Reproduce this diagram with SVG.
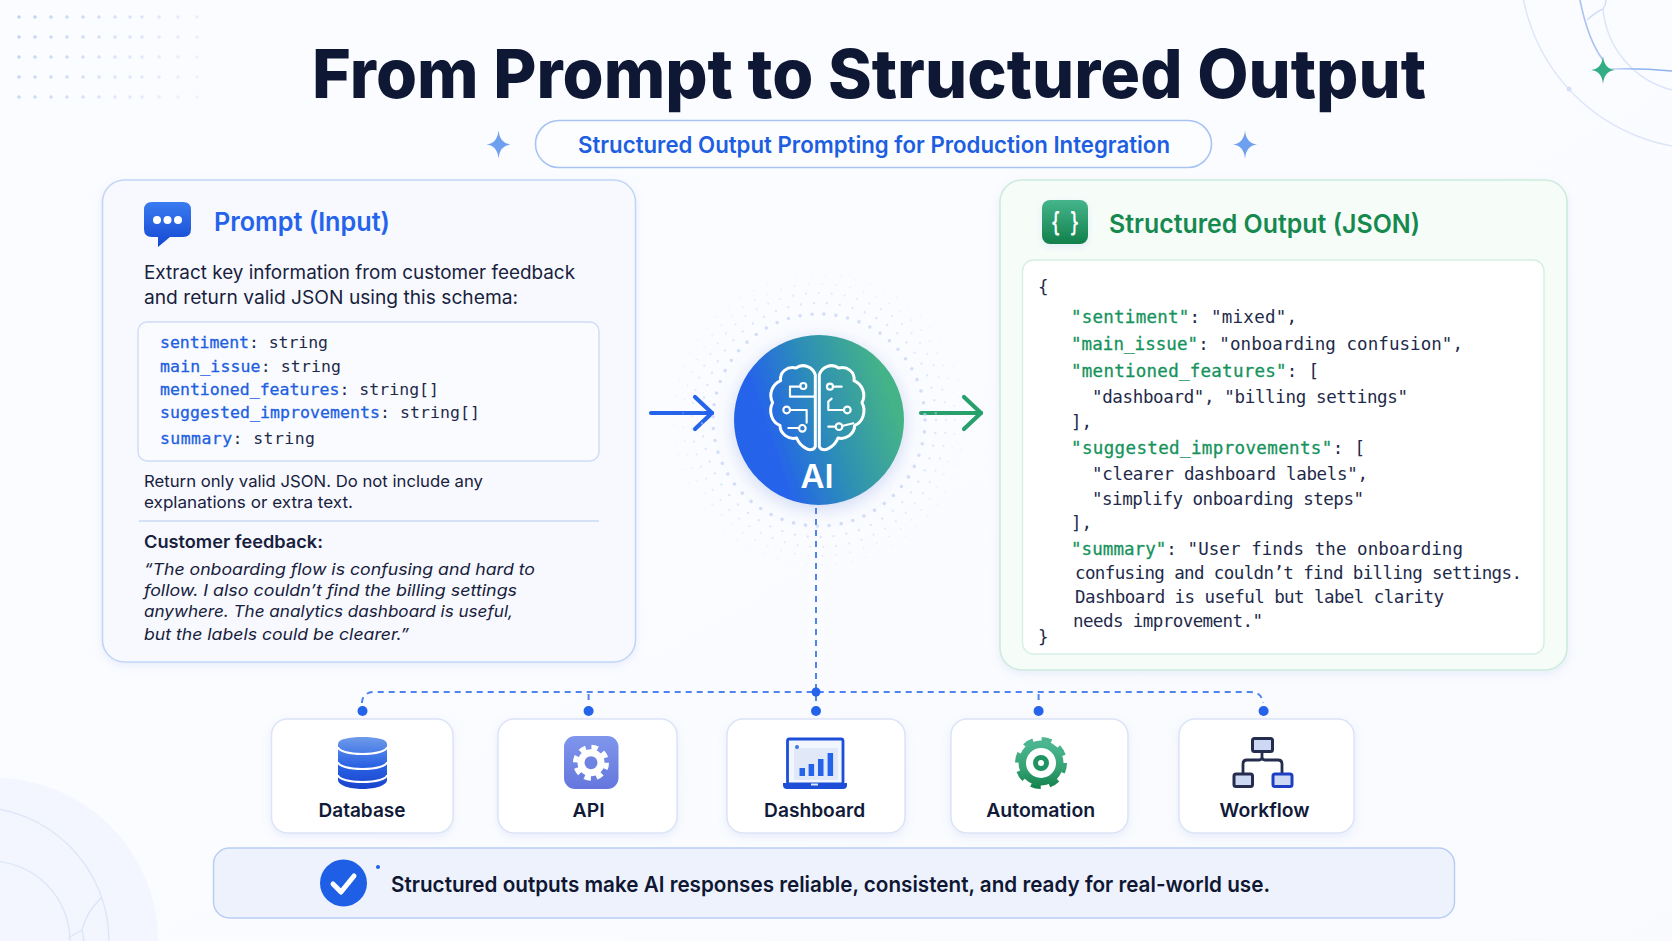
<svg xmlns="http://www.w3.org/2000/svg" xmlns:xlink="http://www.w3.org/1999/xlink" width="1672" height="941" viewBox="0 0 1672 941">
<style>
text{font-family:"Inter","Liberation Sans",sans-serif;fill:#18213c}
.h{font-weight:600}
.b{font-size:18.5px}
.s{font-size:16.5px}
.i{font-size:16.5px;font-style:italic}
.c{font-family:"DejaVu Sans Mono","Liberation Mono",monospace;font-size:16.5px;fill:#1e2a4a}
.j{font-family:"DejaVu Sans Mono","Liberation Mono",monospace;font-size:17.5px;fill:#1e2a4a}
.k{fill:#1d5fe0;stroke:#1d5fe0;stroke-width:.3}
.g{fill:#15935c;stroke:#15935c;stroke-width:.3}
.card{fill:#fff;stroke:#dbe4f7;stroke-width:1.5;filter:url(#sh)}
.lab{font-size:19px;font-weight:600;text-anchor:middle;fill:#111a38}
.dash{fill:none;stroke:#4f83ee;stroke-width:2;stroke-dasharray:6 5}
.dot{fill:#2563eb}
.wf{fill:#cdd9f3;stroke:#252d4e;stroke-width:3}
.halo{fill:none;stroke:#c6d5f5;stroke-linecap:round}
.arc{fill:none;stroke:#dde6f8;stroke-width:1.4}
</style>
<defs>
<linearGradient id="bg" x1="0" y1="0" x2="1" y2="1"><stop offset="0" stop-color="#fbfcff"/><stop offset=".5" stop-color="#fbfcff"/><stop offset="1" stop-color="#f8fafe"/></linearGradient>
<linearGradient id="ai" x1=".12" y1=".62" x2=".92" y2=".35"><stop offset=".1" stop-color="#2563eb"/><stop offset=".5" stop-color="#2d8db8"/><stop offset="1" stop-color="#45b388"/></linearGradient>
<linearGradient id="bub" x1="0" y1="0" x2="0" y2="1"><stop offset="0" stop-color="#3b7bf0"/><stop offset="1" stop-color="#1348d2"/></linearGradient>
<linearGradient id="grn" x1="0" y1="0" x2="0" y2="1"><stop offset="0" stop-color="#45b58c"/><stop offset="1" stop-color="#11804a"/></linearGradient>
<linearGradient id="grnG" gradientUnits="userSpaceOnUse" x1="0" y1="737" x2="0" y2="789"><stop offset=".15" stop-color="#4ab58f"/><stop offset=".6" stop-color="#34a273"/><stop offset="1" stop-color="#11804a"/></linearGradient>
<linearGradient id="db" gradientUnits="userSpaceOnUse" x1="0" y1="737" x2="0" y2="789"><stop offset="0" stop-color="#6f9bea"/><stop offset=".55" stop-color="#2a62e4"/><stop offset="1" stop-color="#1843cc"/></linearGradient>
<linearGradient id="api" x1="0" y1="0" x2="0" y2="1"><stop offset="0" stop-color="#7f96ec"/><stop offset="1" stop-color="#6577dd"/></linearGradient>
<linearGradient id="dots" gradientUnits="userSpaceOnUse" x1="20" y1="17" x2="197" y2="97"><stop offset="0" stop-color="#c3d2f3"/><stop offset="1" stop-color="#f0f3fc"/></linearGradient>
<linearGradient id="fadeB" gradientUnits="userSpaceOnUse" x1="1603" y1="0" x2="1672" y2="0"><stop offset="0" stop-color="#dbe6fb"/><stop offset=".5" stop-color="#8fb2f0"/></linearGradient>
<filter id="sh" x="-10%" y="-10%" width="120%" height="125%"><feDropShadow dx="0" dy="3" stdDeviation="4" flood-color="#6f8fd8" flood-opacity=".14"/></filter>
<filter id="shC" x="-20%" y="-20%" width="140%" height="140%"><feDropShadow dx="0" dy="4" stdDeviation="9" flood-color="#5f82d8" flood-opacity=".3"/></filter>
<path id="star" d="M0-14Q1.2-1.2 12 0Q1.2 1.2 0 14Q-1.2 1.2-12 0Q-1.2-1.200 0-14Z"/>
<marker id="ab" markerUnits="userSpaceOnUse" markerWidth="30" markerHeight="44" refX="23" refY="22" orient="auto"><path d="M6 6L23 22L6 38" fill="none" stroke="#2563eb" stroke-width="4.2" stroke-linecap="round" stroke-linejoin="round"/></marker>
<marker id="ag" markerUnits="userSpaceOnUse" markerWidth="30" markerHeight="44" refX="23" refY="22" orient="auto"><path d="M6 6L23 22L6 38" fill="none" stroke="#27a06c" stroke-width="4.2" stroke-linecap="round" stroke-linejoin="round"/></marker>
</defs>

<g id="background">
<rect width="1672" height="941" fill="url(#bg)"/>
<path d="M19 17h0M35 17h0M51 17h0M67 17h0M83 17h0M99 17h0M115 17h0M130 17h0M142 17h0M159 17h0M178 17h0M197 17h0M19 37h0M35 37h0M51 37h0M67 37h0M83 37h0M99 37h0M115 37h0M130 37h0M142 37h0M159 37h0M178 37h0M197 37h0M19 57h0M35 57h0M51 57h0M67 57h0M83 57h0M99 57h0M115 57h0M130 57h0M142 57h0M159 57h0M178 57h0M197 57h0M19 77h0M35 77h0M51 77h0M67 77h0M83 77h0M99 77h0M115 77h0M130 77h0M142 77h0M159 77h0M178 77h0M197 77h0M19 97h0M35 97h0M51 97h0M67 97h0M83 97h0M99 97h0M115 97h0M130 97h0M142 97h0M159 97h0M178 97h0M197 97h0" fill="none" stroke="url(#dots)" stroke-width="3.6" stroke-linecap="round"/>
<circle cx="-5" cy="941" r="163" fill="#f3f6fe"/>
<circle cx="-25" cy="941" r="134" class="arc"/>
<circle cx="-10" cy="941" r="80" class="arc"/>
<path d="M102 897L93 907Q85 918 82 930L68 938M82 930L84 941" class="arc" stroke-width="1"/>
<circle cx="1705" cy="-36" r="185" class="arc"/>
<path d="M1603 9A92 92 0 0 0 1672 90" fill="none" stroke="#dbe5f9" stroke-width="1.5"/>
<circle cx="1569" cy="89" r="2.5" fill="#d5e0f7"/>
<path d="M1580 0Q1588 40 1603 60" fill="none" stroke="#a9c3f2" stroke-width="1.6"/>
<path d="M1587 20Q1596 12 1603 9Q1606 5 1606 0" fill="none" stroke="#d2def6" stroke-width="1.4"/>
<path d="M1610 69Q1640 68 1672 71" fill="none" stroke="url(#fadeB)" stroke-width="1.6"/>
<use href="#star" xlink:href="#star" x="1603" y="70" fill="#35ad84"/>
</g>

<g id="title">
<text x="312" y="98" font-size="68" font-weight="800" style="fill:#0e1733" textLength="1114" lengthAdjust="spacingAndGlyphs">From Prompt to Structured Output</text>
</g>
<g id="subtitle">
<rect x="535.500" y="120.500" width="676" height="47" rx="23.500" fill="#fcfdff" stroke="#a9c3f2" stroke-width="1.600"/>
<text x="578" y="153" font-size="22.500" font-weight="600" style="fill:#1d5fe0" textLength="592" lengthAdjust="spacingAndGlyphs">Structured Output Prompting for Production Integration</text>
<use href="#star" xlink:href="#star" x="498.500" y="144.500" fill="#6fa0f0"/>
<use href="#star" xlink:href="#star" x="1245" y="144.500" fill="#6fa0f0"/>
</g>

<g id="prompt-panel">
<rect x="102.500" y="180" width="533" height="482" rx="22" fill="#f7f9ff" stroke="#c4d6f6" stroke-width="1.600" filter="url(#sh)"/>
<path d="M152 202H183Q191 202 191 210V229Q191 237 183 237H170L158 247V237H152Q144 237 144 229V210Q144 202 152 202Z" fill="url(#bub)"/>
<g fill="#fff"><circle cx="157" cy="220" r="4"/><circle cx="167.500" cy="220" r="4"/><circle cx="178" cy="220" r="4"/></g>
<text x="214" y="231" font-size="26" class="h" style="fill:#2563eb" textLength="176" lengthAdjust="spacingAndGlyphs">Prompt (Input)</text>
<text x="144" y="279" class="b" textLength="431" lengthAdjust="spacingAndGlyphs">Extract key information from customer feedback</text>
<text x="144" y="304" class="b" textLength="374" lengthAdjust="spacingAndGlyphs">and return valid JSON using this schema:</text>
<rect x="138" y="322" width="461" height="139" rx="9" fill="#fafbff" stroke="#cfdcf6" stroke-width="1.400"/>
<text x="160" y="348" class="c" textLength="168"><tspan class="k">sentiment</tspan>: string</text>
<text x="160" y="372" class="c" textLength="181"><tspan class="k">main_issue</tspan>: string</text>
<text x="160" y="395" class="c" textLength="279"><tspan class="k">mentioned_features</tspan>: string[]</text>
<text x="160" y="418" class="c" textLength="320"><tspan class="k">suggested_improvements</tspan>: string[]</text>
<text x="160" y="444" class="c" textLength="155"><tspan class="k">summary</tspan>: string</text>
<text x="144" y="487" class="s" textLength="339" lengthAdjust="spacingAndGlyphs">Return only valid JSON. Do not include any</text>
<text x="144" y="508" class="s" textLength="209" lengthAdjust="spacingAndGlyphs">explanations or extra text.</text>
<line x1="139" y1="521" x2="599" y2="521" stroke="#c9d8f4" stroke-width="1.500"/>
<text x="144" y="548" font-size="17.500" class="h" textLength="179" lengthAdjust="spacingAndGlyphs">Customer feedback:</text>
<text x="144" y="575" class="i" textLength="391" lengthAdjust="spacingAndGlyphs">“The onboarding flow is confusing and hard to</text>
<text x="144" y="596" class="i" textLength="373" lengthAdjust="spacingAndGlyphs">follow. I also couldn’t find the billing settings</text>
<text x="144" y="617" class="i" textLength="369" lengthAdjust="spacingAndGlyphs">anywhere. The analytics dashboard is useful,</text>
<text x="144" y="639.500" class="i" textLength="265" lengthAdjust="spacingAndGlyphs">but the labels could be clearer.”</text>
</g>

<g id="output-panel">
<rect x="1000" y="180" width="567" height="490" rx="22" fill="#f6fdf9" stroke="#cdebdd" stroke-width="1.600" filter="url(#sh)"/>
<rect x="1042" y="200" width="46" height="44" rx="8" fill="url(#grn)" filter="url(#sh)"/>
<text x="1065" y="231" font-size="26" font-weight="700" text-anchor="middle" style="fill:#fff;font-family:'DejaVu Sans Mono',monospace" textLength="28" lengthAdjust="spacingAndGlyphs">{ }</text>
<text x="1109" y="232.500" font-size="26" class="h" style="fill:#16894f" textLength="311" lengthAdjust="spacingAndGlyphs">Structured Output (JSON)</text>
<rect x="1022.500" y="260" width="521.500" height="394" rx="11" fill="#fff" stroke="#d6eee3" stroke-width="1.400"/>
<text x="1038" y="293" class="j">{</text>
<text x="1071" y="323" class="j" textLength="226"><tspan class="g">"sentiment"</tspan>: "mixed",</text>
<text x="1071" y="350" class="j" textLength="392"><tspan class="g">"main_issue"</tspan>: "onboarding confusion",</text>
<text x="1071" y="377" class="j" textLength="248"><tspan class="g">"mentioned_features"</tspan>: [</text>
<text x="1092" y="403" class="j" textLength="316">"dashboard", "billing settings"</text>
<text x="1071" y="428" class="j">],</text>
<text x="1071" y="454" class="j" textLength="294"><tspan class="g">"suggested_improvements"</tspan>: [</text>
<text x="1092" y="479.500" class="j" textLength="276">"clearer dashboard labels",</text>
<text x="1092" y="504.500" class="j" textLength="272">"simplify onboarding steps"</text>
<text x="1071" y="528.500" class="j">],</text>
<text x="1071" y="554.500" class="j" textLength="392"><tspan class="g">"summary"</tspan>: "User finds the onboarding</text>
<text x="1075" y="579" class="j" textLength="447">confusing and couldn’t find billing settings.</text>
<text x="1075" y="603" class="j" textLength="369">Dashboard is useful but label clarity</text>
<text x="1073" y="627" class="j" textLength="190">needs improvement."</text>
<text x="1038" y="643" class="j">}</text>
</g>

<g id="connectors">
<path d="M651 413H712" fill="none" stroke="#2563eb" stroke-width="4.200" stroke-linecap="round" marker-end="url(#ab)"/>
<path d="M921 413H981" fill="none" stroke="#27a06c" stroke-width="4.200" stroke-linecap="round" marker-end="url(#ag)"/>
<path d="M816 508V703" class="dash"/>
<path d="M362 703V702Q363 692 375 692H1250Q1262 692 1263 703" class="dash"/>
<path d="M588.600 694V702M1038.600 694V702" class="dash"/>
<circle cx="816" cy="692" r="4.500" class="dot"/>
<circle cx="362.500" cy="711" r="5" class="dot"/>
<circle cx="588.600" cy="711" r="5" class="dot"/>
<circle cx="816" cy="711" r="5" class="dot"/>
<circle cx="1038.600" cy="711" r="5" class="dot"/>
<circle cx="1263.600" cy="711" r="5" class="dot"/>
</g>

<g id="ai-node">
<circle cx="819" cy="420" r="106" class="halo" stroke-width="3.600" stroke-dasharray="0 12" opacity=".75"/>
<circle cx="819" cy="420" r="117" class="halo" stroke-width="2.400" stroke-dasharray="0 13" opacity=".55"/>
<circle cx="819" cy="420" r="127" class="halo" stroke-width="2.200" stroke-dasharray="0 13" opacity=".45"/>
<circle cx="819" cy="420" r="136" class="halo" stroke-width="1.800" stroke-dasharray="0 14" opacity=".35"/>
<circle cx="819" cy="420" r="145" class="halo" stroke-width="1.600" stroke-dasharray="0 15" opacity=".25"/>
<circle cx="819" cy="420" r="85" fill="url(#ai)" filter="url(#shC)"/>
<g transform="translate(640 270) scale(.3333)" fill="none" stroke="#fff" stroke-width="9" stroke-linecap="round" stroke-linejoin="round">
<path d="M526 315C520 292 490 278 468 294C442 288 418 306 422 332C398 342 384 372 398 398C384 424 396 458 420 466C420 492 446 510 470 504C480 530 516 552 526 530Z"/>
<path d="M526 315C520 292 490 278 468 294C442 288 418 306 422 332C398 342 384 372 398 398C384 424 396 458 420 466C420 492 446 510 470 504C480 530 516 552 526 530Z" transform="translate(1064 0) scale(-1 1)"/>
<path d="M481 350H450V380H525M450 420H500V458M478 474H445M580 350H605M612 420H565V395L575 386M588 470H565M606 468L640 460" stroke-width="6.500"/>
<circle cx="490" cy="348" r="9" stroke-width="6.500"/><circle cx="440" cy="420" r="10" stroke-width="6.500"/><circle cx="487" cy="475" r="10" stroke-width="6.500"/>
<circle cx="570" cy="350" r="9" stroke-width="6.500"/><circle cx="622" cy="420" r="10" stroke-width="6.500"/><circle cx="597" cy="470" r="10" stroke-width="6.500"/>
</g>
<text x="817" y="488" font-size="33" font-weight="600" text-anchor="middle" style="fill:#fff">AI</text>
</g>

<g id="database">
<rect x="271.500" y="719" width="181.500" height="114" rx="16" class="card"/>
<path d="M338 744V780C338 785 349 789 362.500 789S387 785 387 780V744C387 739 376 737 362.500 737S338 739 338 744Z" fill="url(#db)"/>
<path d="M338 747C338 751 349 754 362.500 754S387 751 387 747M338 762C338 766 349 769 362.500 769S387 766 387 762M338 775C338 779 349 782 362.500 782S387 779 387 775" fill="none" stroke="#fff" stroke-width="2"/>
<text x="362" y="817" class="lab" textLength="87" lengthAdjust="spacingAndGlyphs">Database</text>
</g>

<g id="api">
<rect x="498" y="719" width="179" height="114" rx="16" class="card"/>
<rect x="564" y="736" width="54.500" height="53" rx="11" fill="url(#api)"/>
<circle cx="591" cy="762.700" r="13.500" fill="#fff"/>
<circle cx="591" cy="762.700" r="15.500" fill="none" stroke="#fff" stroke-width="5" stroke-dasharray="6.500 5.670"/>
<circle cx="591" cy="762.700" r="6.500" fill="#6f84e2"/>
<text x="588.600" y="817" class="lab" textLength="32" lengthAdjust="spacingAndGlyphs">API</text>
</g>

<g id="dashboard">
<rect x="727" y="719" width="178" height="114" rx="16" class="card"/>
<rect x="787.500" y="739" width="55.500" height="45" rx="2" fill="#f2f6fe" stroke="#1d4ed8" stroke-width="2.800"/>
<rect x="794" y="748" width="44" height="32" fill="#e1e8f8"/>
<circle cx="797" cy="747" r="2" fill="#3f74e6"/>
<g fill="#2563eb"><rect x="799.500" y="768" width="5.500" height="8"/><rect x="808.600" y="764" width="5.500" height="12"/><rect x="818" y="759" width="5.500" height="17"/><rect x="827.600" y="753" width="5.500" height="23"/></g>
<path d="M783 783H847V785Q847 789 843 789H787Q783 789 783 785Z" fill="#1d4ed8"/>
<rect x="811" y="783.500" width="7" height="2" fill="#dfe8fb"/>
<text x="814.600" y="817" class="lab" textLength="101" lengthAdjust="spacingAndGlyphs">Dashboard</text>
</g>

<g id="automation">
<rect x="951" y="719" width="177" height="114" rx="16" class="card"/>
<circle cx="1041" cy="763" r="22.500" fill="url(#grnG)"/>
<circle cx="1041" cy="763" r="24" fill="none" stroke="url(#grnG)" stroke-width="4" stroke-dasharray="10 8.850"/>
<circle cx="1041" cy="763" r="15" fill="#fff"/>
<circle cx="1041" cy="763" r="5.500" fill="none" stroke="#1f9462" stroke-width="5"/>
<text x="1040.700" y="817" class="lab" textLength="109" lengthAdjust="spacingAndGlyphs">Automation</text>
</g>

<g id="workflow">
<rect x="1179" y="719" width="175" height="114" rx="16" class="card"/>
<path d="M1262 752V757Q1262 760 1259 760H1247Q1243 760 1243 764V773M1262 757Q1262 760 1265 760H1278Q1282 760 1282 764V773" fill="none" stroke="#252d4e" stroke-width="2.800"/>
<rect x="1252.500" y="738.500" width="20" height="13" rx="2" class="wf"/>
<rect x="1234" y="774" width="18.500" height="12.500" rx="2" class="wf"/>
<rect x="1273" y="774" width="19" height="12.500" rx="2" class="wf" style="stroke:#1d3fc4"/>
<text x="1264.600" y="817" class="lab" textLength="90" lengthAdjust="spacingAndGlyphs">Workflow</text>
</g>

<g id="takeaway">
<rect x="213.500" y="848" width="1241" height="70" rx="16" fill="#edf2fd" stroke="#b9cef3" stroke-width="1.500"/>
<circle cx="343.500" cy="883" r="23.500" fill="#1f5fe6"/>
<path d="M333 884L341 892L354 876" fill="none" stroke="#fff" stroke-width="5" stroke-linecap="round" stroke-linejoin="round"/>
<circle cx="378" cy="867" r="2" fill="#1f5fe6"/>
<text x="391" y="892" font-size="22" font-weight="600" style="fill:#0f1733" textLength="879" lengthAdjust="spacingAndGlyphs">Structured outputs make AI responses reliable, consistent, and ready for real-world use.</text>
</g>
</svg>
